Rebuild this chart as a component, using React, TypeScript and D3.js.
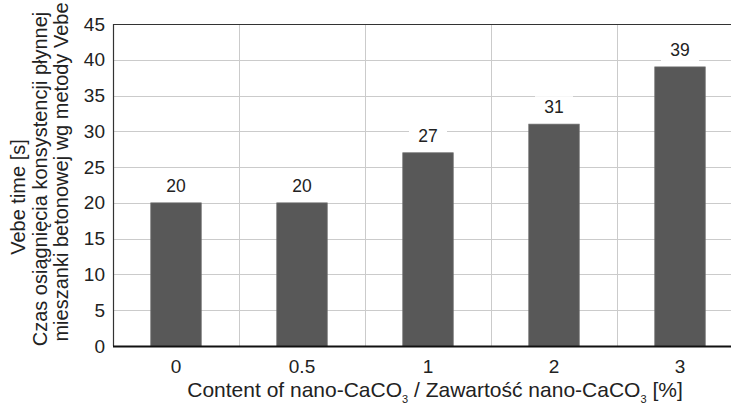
import * as d3 from "d3";
import React, { useEffect, useRef } from "react";

const categories = ["0", "0.5", "1", "2", "3"];
const vebeTimes = [20, 20, 27, 31, 39];
const yTicks = [0, 5, 10, 15, 20, 25, 30, 35, 40, 45];

const App: React.FC = () => {
  const ref = useRef<SVGSVGElement>(null);

  useEffect(() => {
    const width = 731;
    const height = 406;
    const margin = { top: 24, right: -12, bottom: 60, left: 113 };
    const font = "'Liberation Sans', Arial, sans-serif";

    d3.select(ref.current).selectAll("*").remove();
    const svg = d3.select(ref.current).attr("width", width).attr("height", height);

    const x = d3.scaleBand()
      .domain(categories)
      .range([margin.left, width - margin.right])
      .padding(0);

    const y = d3.scaleLinear()
      .domain([0, 45])
      .range([height - margin.bottom, margin.top]);

    // grid
    const grid = svg.append("g").attr("stroke", "#cbcbcb").attr("stroke-width", 1);
    yTicks.slice(1, -1).forEach((t) => {
      grid.append("line")
        .attr("x1", margin.left).attr("x2", width)
        .attr("y1", Math.round(y(t)) + 0.5).attr("y2", Math.round(y(t)) + 0.5);
    });
    categories.slice(1).forEach((c) => {
      const gx = Math.round(x(c)!) + 0.5;
      grid.append("line")
        .attr("x1", gx).attr("x2", gx)
        .attr("y1", margin.top).attr("y2", y(0));
    });

    // bars
    const barW = x.bandwidth() * 0.4;
    svg.selectAll("rect.bar")
      .data(vebeTimes)
      .enter()
      .append("rect")
      .attr("class", "bar")
      .attr("x", (_, i) => x(categories[i])! + (x.bandwidth() - barW) / 2)
      .attr("y", (d) => y(d))
      .attr("width", barW)
      .attr("height", (d) => y(0) - y(d))
      .attr("fill", "#585858")
      .attr("stroke", "#6a6a6a")
      .attr("stroke-width", 0.8);

    // value labels with white boxes
    const labels = svg.append("g");
    vebeTimes.forEach((v, i) => {
      const cx = x(categories[i])! + x.bandwidth() / 2;
      const cy = y(v) - 17;
      labels.append("rect")
        .attr("x", cx - 19).attr("y", cy - 11)
        .attr("width", 38).attr("height", 22)
        .attr("fill", "#fff");
      labels.append("text")
        .attr("x", cx).attr("y", cy)
        .attr("text-anchor", "middle")
        .attr("dominant-baseline", "central")
        .style("font-family", font)
        .style("font-size", "17.5px")
        .attr("fill", "#222")
        .text(String(v));
    });

    // frame
    svg.append("line")
      .attr("x1", margin.left).attr("x2", width)
      .attr("y1", margin.top + 0.5).attr("y2", margin.top + 0.5)
      .attr("stroke", "#333").attr("stroke-width", 1.2);
    svg.append("line")
      .attr("x1", margin.left + 0.5).attr("x2", margin.left + 0.5)
      .attr("y1", margin.top).attr("y2", y(0))
      .attr("stroke", "#333").attr("stroke-width", 1.2);
    svg.append("line")
      .attr("x1", margin.left).attr("x2", width)
      .attr("y1", y(0) + 0.5).attr("y2", y(0) + 0.5)
      .attr("stroke", "#111").attr("stroke-width", 1.8);

    // y ticks
    svg.append("g")
      .selectAll("text")
      .data(yTicks)
      .enter()
      .append("text")
      .attr("x", margin.left - 8)
      .attr("y", (d) => y(d))
      .attr("text-anchor", "end")
      .attr("dominant-baseline", "central")
      .style("font-family", font)
      .style("font-size", "19px")
      .attr("fill", "#222")
      .text((d) => String(d));

    // x ticks
    svg.append("g")
      .selectAll("text")
      .data(categories)
      .enter()
      .append("text")
      .attr("x", (d) => x(d)! + x.bandwidth() / 2)
      .attr("y", 373)
      .attr("text-anchor", "middle")
      .style("font-family", font)
      .style("font-size", "19px")
      .attr("fill", "#222")
      .text((d) => d);

    // x title
    const xt = svg.append("text")
      .attr("x", 435)
      .attr("y", 397)
      .attr("text-anchor", "middle")
      .style("font-family", font)
      .style("font-size", "21px")
      .attr("fill", "#222");
    xt.append("tspan").text("Content of nano-CaCO");
    xt.append("tspan").attr("dy", 6).style("font-size", "11px").text("3");
    xt.append("tspan").attr("dy", -6).text(" / Zawartość nano-CaCO");
    xt.append("tspan").attr("dy", 6).style("font-size", "11px").text("3");
    xt.append("tspan").attr("dy", -6).text(" [%]");

    // y titles
    const yTitles = [
      { text: "Vebe time [s]", x: 18, c: 197 },
      { text: "Czas osiągnięcia konsystencji płynnej", x: 40, c: 179 },
      { text: "mieszanki betonowej wg metody Vebe", x: 61, c: 172 },
    ];
    yTitles.forEach((t) => {
      svg.append("text")
        .attr("transform", `translate(${t.x},${t.c}) rotate(-90)`)
        .attr("text-anchor", "middle")
        .attr("dominant-baseline", "central")
        .style("font-family", font)
        .style("font-size", "20px")
        .attr("fill", "#222")
        .text(t.text);
    });
  }, []);

  return (
    <svg ref={ref} style={{ position: "absolute", left: 0, top: 0, background: "#fff" }}></svg>
  );
};

export default App;
